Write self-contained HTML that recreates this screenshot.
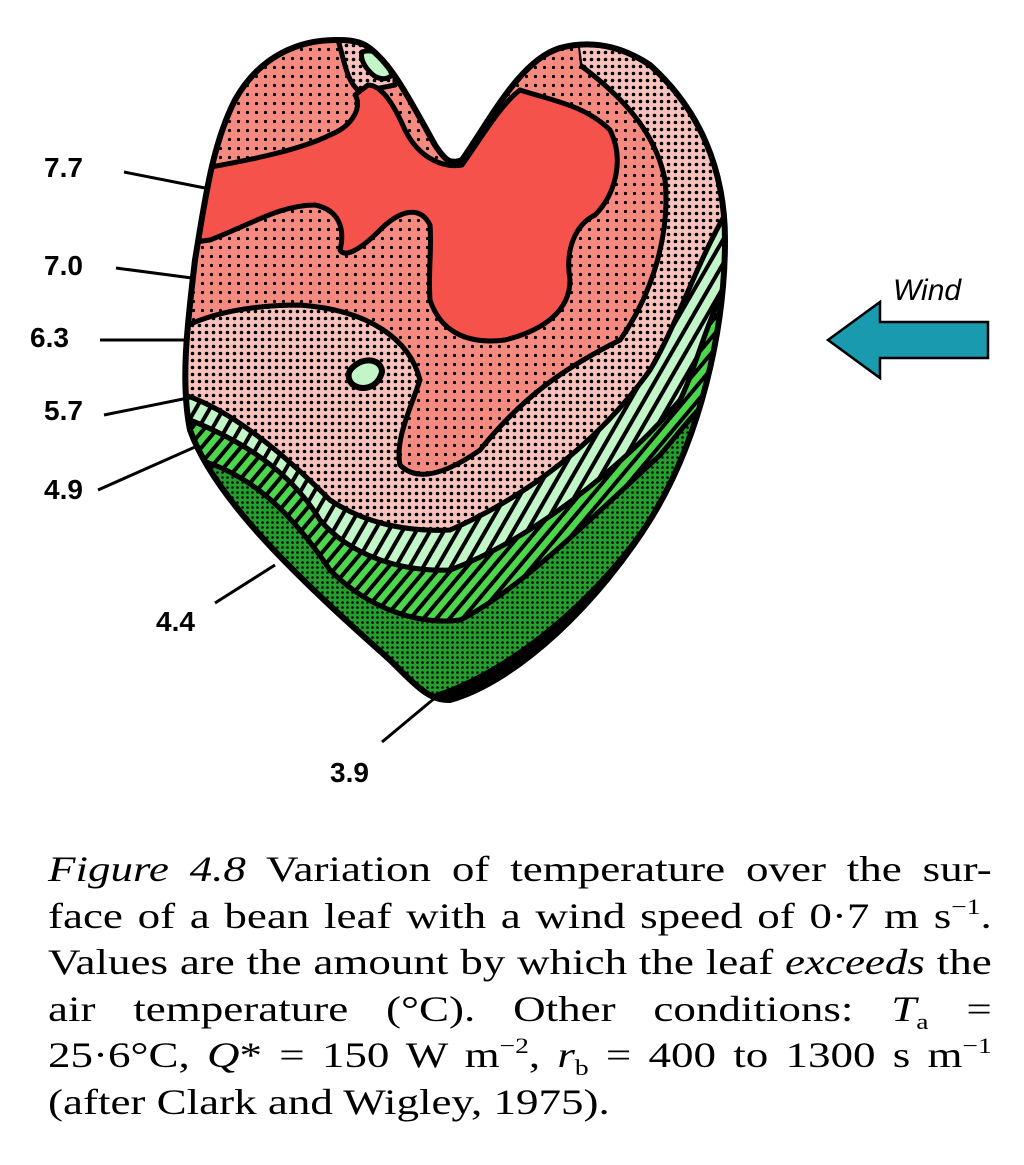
<!DOCTYPE html>
<html><head><meta charset="utf-8"><style>
html,body{margin:0;padding:0;background:#fff;width:1024px;height:1165px;overflow:hidden}
.lab{position:absolute;font:bold 28px "Liberation Sans",sans-serif;color:#000}
.cap{position:absolute;left:48px;width:755px;transform:scaleX(1.25);transform-origin:0 0;font:36px "Liberation Serif",serif;color:#000}
.cap div{height:46.5px;line-height:46.5px;text-align:justify;text-align-last:justify;white-space:nowrap;overflow:visible}
.cap sup,.cap sub{font-size:22px;line-height:0;vertical-align:baseline;position:relative}
.cap sup{top:-14px}.cap sub{top:8px}
</style></head><body>
<svg width="1024" height="820" style="position:absolute;left:0;top:0">
<defs>
<pattern id="dotsA" width="9" height="9" patternUnits="userSpaceOnUse"><rect width="9" height="9" fill="#f58a80"/><circle cx="4.5" cy="4.5" r="1.6" fill="#000"/></pattern>
<pattern id="dotsB" width="7" height="7" patternUnits="userSpaceOnUse"><rect width="7" height="7" fill="#f9c3bd"/><circle cx="3.5" cy="3.5" r="1.8" fill="#000"/></pattern>
<pattern id="strLG" width="12" height="12" patternUnits="userSpaceOnUse" patternTransform="rotate(30)"><rect width="12" height="12" fill="#c2f5c8"/><rect width="4" height="12" fill="#000"/></pattern>
<pattern id="strG" width="10" height="10" patternUnits="userSpaceOnUse" patternTransform="rotate(40)"><rect width="10" height="10" fill="#4cd64c"/><rect width="4" height="10" fill="#000"/></pattern>
<pattern id="xDG" width="5" height="5" patternUnits="userSpaceOnUse"><rect width="5" height="5" fill="#23a02c"/><circle cx="2.5" cy="2.5" r="1.3" fill="#000"/></pattern>
<clipPath id="heart"><path id="hp" d="M336,40 C300,40 260,55 235,100 C212,145 205,200 195,260 C188,320 180,380 190,430 C215,500 300,580 390,660 C420,690 430,700 450,700 C520,680 600,600 650,520 C700,440 725,330 725,240 C725,170 700,110 650,65 C620,45 590,40 560,48 C520,60 490,120 462,160 C450,165 445,160 435,145 C410,100 390,60 365,45 C355,40 345,40 336,40 Z"/></clipPath>
</defs>
<g clip-path="url(#heart)" stroke="#000" stroke-width="5" stroke-linejoin="round">
<rect x="150" y="20" width="620" height="700" fill="#000" stroke="none"/>
<path d="M150,450 L200,460 C250,475 290,510 330,570 C370,610 420,625 460,620 C520,590 600,510 660,455 C690,420 705,395 740,380 L770,720 L150,720 Z" fill="url(#xDG)" stroke="none"/>
<path d="M150,450 L200,460 C250,475 290,510 330,570 C370,610 420,625 460,620 C520,590 600,510 660,455 C690,420 705,395 740,380" fill="none"/>
<path d="M150,415 L190,420 C240,440 290,470 320,520 C350,555 400,572 450,570 C530,540 620,470 680,400 C700,360 710,300 740,270 L740,380 C705,395 690,420 660,455 C600,510 520,590 460,620 C420,625 370,610 330,570 C290,510 250,475 200,460 L150,450 Z" fill="url(#strG)"/>
<path d="M150,390 L185,395 C230,410 280,450 330,500 C360,520 400,532 450,530 C530,495 600,440 650,370 C680,320 700,250 740,190 L740,270 C710,300 700,360 680,400 C620,470 530,540 450,570 C400,572 350,555 320,520 C290,470 240,440 190,420 L150,415 Z" fill="url(#strLG)"/>
<path d="M150,345 C190,320 230,305 300,305 C370,310 410,340 420,380 C410,410 395,440 400,465 C415,480 440,478 480,450 C520,400 560,370 620,340 C655,290 670,230 665,180 C655,130 620,95 580,65 L575,30 L740,30 L740,190 C700,250 680,320 650,370 C600,440 530,495 450,530 C400,532 360,520 330,500 C280,450 230,410 185,395 L150,390 Z" fill="url(#dotsB)"/>
<path d="M150,20 L575,20 L580,65 C620,95 655,130 665,180 C670,230 655,290 620,340 C560,370 520,400 480,450 C440,478 415,480 400,465 C395,440 410,410 420,380 C410,340 370,310 300,305 C230,305 190,320 150,345 Z" fill="url(#dotsA)" stroke="none"/>
<path d="M580,65 C620,95 655,130 665,180 C670,230 655,290 620,340 C560,370 520,400 480,450 C440,478 415,480 400,465 C395,440 410,410 420,380 C410,340 370,310 300,305 C230,305 190,320 150,345" fill="none"/>
<path d="M335,30 C345,60 345,80 360,92 L395,85 L395,30 Z" fill="url(#dotsB)"/>
<path d="M362,52 C375,48 385,55 392,75 C385,82 375,78 370,72 C364,66 360,58 362,52 Z" fill="#c2f5c8"/>
<path d="M150,170 L205,168 C250,160 300,150 330,135 C355,125 362,105 355,95 L368,85 C380,85 392,100 405,130 C420,160 445,168 462,165 C480,140 500,105 520,90 C550,100 585,105 610,130 C625,160 615,195 595,215 C575,225 565,250 570,280 C570,310 545,330 505,340 C465,345 440,330 430,300 C428,270 432,250 430,225 C420,205 400,210 380,230 C360,250 345,258 340,250 C345,230 340,210 315,205 C280,205 250,225 210,240 L150,248 Z" fill="#f5524c"/>
<path d="M352,368 C365,355 382,360 382,372 C378,388 362,392 352,384 C347,378 348,372 352,368 Z" fill="#c2f5c8" stroke-width="6"/>
</g>
<use href="#hp" fill="none" stroke="#000" stroke-width="6"/>
<path d="M450,700 C520,680 600,600 650,520 L640,530 C590,600 510,670 430,695 Z" fill="#000"/>
<g stroke="#000" stroke-width="3">
<line x1="124" y1="172" x2="205" y2="188"/>
<line x1="116" y1="268" x2="192" y2="278"/>
<line x1="100" y1="340" x2="184" y2="340"/>
<line x1="104" y1="415" x2="188" y2="398"/>
<line x1="98" y1="490" x2="195" y2="447"/>
<line x1="215" y1="603" x2="275" y2="565"/>
<line x1="382" y1="742" x2="442" y2="692"/>
</g>
<path d="M828,340 L880,302 L880,322 L988,322 L988,358 L880,358 L880,378 Z" fill="#1a9aae" stroke="#000" stroke-width="2.5"/>
<text x="893" y="300" font-family="Liberation Sans, sans-serif" font-style="italic" font-size="30">Wind</text>
</svg>
<div class="lab" style="left:44px;top:152px">7.7</div>
<div class="lab" style="left:44px;top:250px">7.0</div>
<div class="lab" style="left:30px;top:322px">6.3</div>
<div class="lab" style="left:44px;top:395px">5.7</div>
<div class="lab" style="left:44px;top:474px">4.9</div>
<div class="lab" style="left:156px;top:606px">4.4</div>
<div class="lab" style="left:330px;top:757px">3.9</div>
<div class="cap" style="top:846px">
<div><i>Figure 4.8</i> Variation of temperature over the sur-</div>
<div>face of a bean leaf with a wind speed of 0·7 m s<sup>−1</sup>.</div>
<div>Values are the amount by which the leaf <i>exceeds</i> the</div>
<div>air temperature (°C). Other conditions: <i>T</i><sub>a</sub> =</div>
<div>25·6°C, <i>Q</i>* = 150 W m<sup>−2</sup>, <i>r</i><sub>b</sub> = 400 to 1300 s m<sup>−1</sup></div>
<div style="text-align-last:left">(after Clark and Wigley, 1975).</div>
</div>
</body></html>
